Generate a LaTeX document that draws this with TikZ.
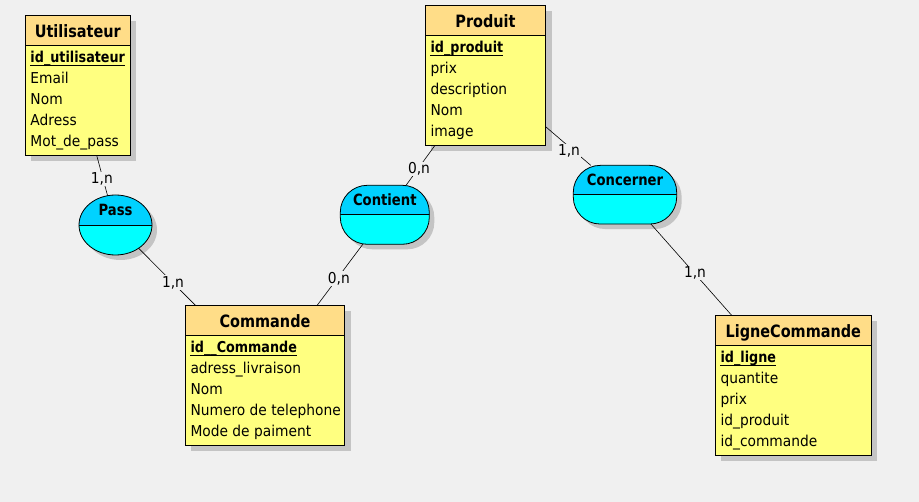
\documentclass[tikz,border=0pt]{standalone}
\usepackage{fontspec}
\setmainfont[FakeStretch=0.92]{DejaVu Sans}
\newfontfamily\bff[FakeStretch=0.85]{DejaVu Sans}
\usetikzlibrary{shapes.geometric,shadows}
\definecolor{bgc}{RGB}{240,240,240}
\definecolor{hdr}{RGB}{255,221,136}
\definecolor{bdy}{RGB}{255,255,128}
\definecolor{rtop}{RGB}{0,210,255}
\definecolor{rbot}{RGB}{0,255,255}
\definecolor{shd}{RGB}{196,196,196}
\tikzset{
  ent/.style={draw=black, line width=0.8pt, fill=bdy, inner sep=0pt, outer sep=0pt, anchor=north west,
    drop shadow={shadow xshift=6pt, shadow yshift=-6pt, fill=shd, opacity=1},
    path picture={\fill[hdr, sharp corners] (path picture bounding box.north west) rectangle ([yshift=-30pt]path picture bounding box.north east);
      \draw[line width=0.8pt] ([yshift=-30pt]path picture bounding box.north west) -- ([yshift=-30pt]path picture bounding box.north east);}},
  rel/.style={draw=black, line width=0.8pt, fill=rbot, inner sep=0pt, outer sep=0pt,
    drop shadow={shadow xshift=5pt, shadow yshift=-5pt, fill=shd, opacity=1},
    path picture={\fill[rtop, sharp corners] ([xshift=-2pt,yshift=2pt]path picture bounding box.north west) rectangle ([xshift=2pt]path picture bounding box.east);
      \draw[line width=0.8pt, sharp corners] ([xshift=-2pt]path picture bounding box.west) -- ([xshift=2pt]path picture bounding box.east);}},
  etitle/.style={anchor=base, inner sep=0pt, font=\bff\bfseries\fontsize{17}{20}\selectfont},
  rtitle/.style={anchor=base, inner sep=0pt, font=\bff\bfseries\fontsize{15.5}{18}\selectfont},
  idattr/.style={anchor=base west, inner sep=0pt, font=\bff\bfseries\fontsize{15}{18}\selectfont},
  attr/.style={anchor=base west, inner sep=0pt, font=\fontsize{15}{18}\selectfont},
  card/.style={anchor=base, inner sep=1pt, fill=bgc, font=\fontsize{15}{18}\selectfont},
  conn/.style={draw=black, line width=0.6pt},
  uline/.style={line width=0.9pt}
}
\begin{document}
\begin{tikzpicture}[x=1pt, y=-1pt]
\fill[bgc] (0,0) rectangle (919,502);
\useasboundingbox (0,0) rectangle (919,502);

% entity boxes
\node[ent, minimum width=105pt, minimum height=140pt] (util) at (25.3,15.3) {};
\node[ent, minimum width=120.4pt, minimum height=140pt] (prod) at (425.3,5.3) {};
\node[ent, minimum width=159.4pt, minimum height=140pt] (cmd) at (185.3,305.3) {};
\node[ent, minimum width=156pt, minimum height=140pt] (lc) at (715.3,315.3) {};

% relationships
\node[rel, ellipse, minimum width=73pt, minimum height=60pt] (pass) at (115.5,225) {};
\node[rel, rectangle, rounded corners=27pt, minimum width=89pt, minimum height=59pt] (cont) at (384.8,214.8) {};
\node[rel, rectangle, rounded corners=27pt, minimum width=103.4pt, minimum height=58.7pt] (conc) at (625,194.7) {};

% connectors
\draw[conn] (util) -- (pass);
\draw[conn] (pass) -- (cmd);
\draw[conn] (prod) -- (cont);
\draw[conn] (cont) -- (cmd);
\draw[conn] (prod) -- (conc);
\draw[conn] (conc) -- (lc);

% cardinalities
\node[card] (c1) at (101.8,183.7) {1,n};
\node[card] (c2) at (173,287.3) {1,n};
\node[card] (c3) at (419,173.7) {0,n};
\node[card] (c4) at (338.8,283.3) {0,n};
\node[card] (c5) at (569,155.7) {1,n};
\node[card] (c6) at (695,277.7) {1,n};

% relationship titles
\node[rtitle] (pass-t) at (115.5,216) {Pass};
\node[rtitle] (cont-t) at (384.8,206) {Contient};
\node[rtitle] (conc-t) at (625,186) {Concerner};

% Utilisateur
\node[etitle] (util-t) at (77.8,37.3) {Utilisateur};
\node[idattr] (util-id) at (30.3,62.3) {id\_utilisateur};
\draw[uline] ([yshift=-3pt]util-id.base west) -- ([yshift=-3pt]util-id.base east);
\foreach \t [count=\i] in {Email,Nom,Adress,Mot\_de\_pass}
  \node[attr] (util-a\i) at (30.3,62.3+21*\i) {\t};

% Produit
\node[etitle] (prod-t) at (485.5,27.3) {Produit};
\node[idattr] (prod-id) at (430.3,52.3) {id\_produit};
\draw[uline] ([yshift=-3pt]prod-id.base west) -- ([yshift=-3pt]prod-id.base east);
\foreach \t [count=\i] in {prix,description,Nom,image}
  \node[attr] (prod-a\i) at (430.3,52.3+21*\i) {\t};

% Commande
\node[etitle] (cmd-t) at (265,327.3) {Commande};
\node[idattr] (cmd-id) at (190.3,352.3) {id\_\_Commande};
\draw[uline] ([yshift=-3pt]cmd-id.base west) -- ([yshift=-3pt]cmd-id.base east);
\foreach \t [count=\i] in {adress\_livraison,Nom,Numero de telephone,Mode de paiment}
  \node[attr] (cmd-a\i) at (190.3,352.3+21*\i) {\t};

% LigneCommande
\node[etitle] (lc-t) at (793.3,337.3) {LigneCommande};
\node[idattr] (lc-id) at (720.3,362.3) {id\_ligne};
\draw[uline] ([yshift=-3pt]lc-id.base west) -- ([yshift=-3pt]lc-id.base east);
\foreach \t [count=\i] in {quantite,prix,id\_produit,id\_commande}
  \node[attr] (lc-a\i) at (720.3,362.3+21*\i) {\t};
\end{tikzpicture}
\end{document}
